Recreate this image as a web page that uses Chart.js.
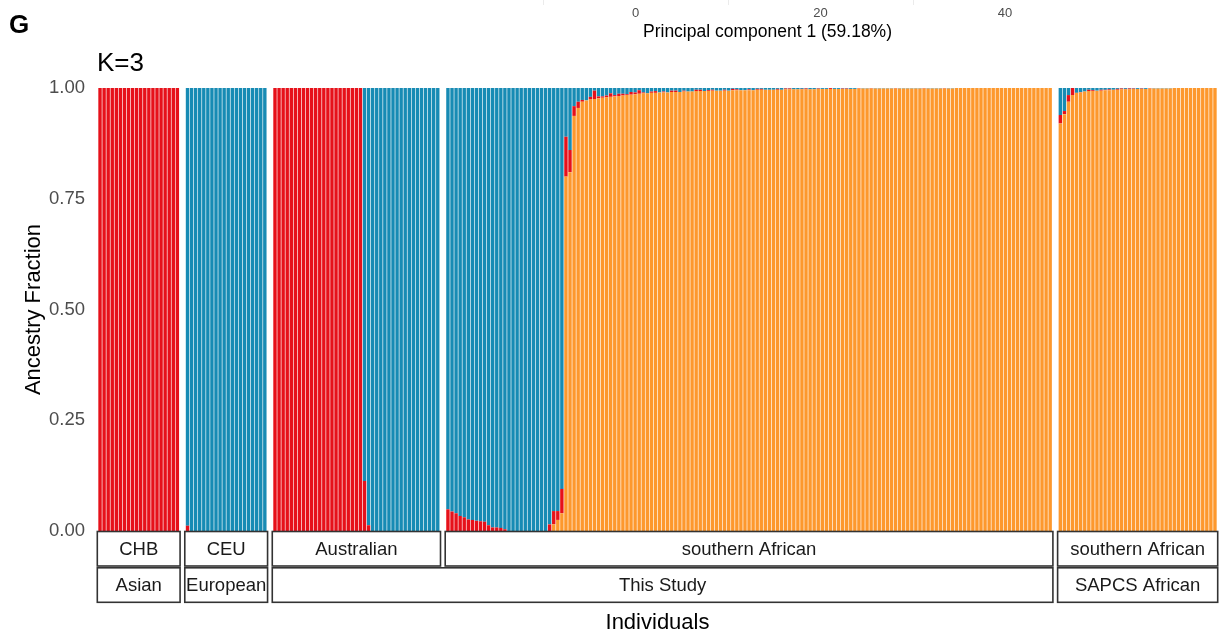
<!DOCTYPE html>
<html>
<head>
<meta charset="utf-8">
<script src="https://cdn.jsdelivr.net/npm/chart.js@4.4.1/dist/chart.umd.min.js"></script>
<style>
  html, body { margin: 0; padding: 0; background: #ffffff; }
  #wrap { position: relative; width: 1219px; height: 634px; }
</style>
</head>
<body>
<div id="wrap"><canvas id="admix" width="1219" height="634"></canvas></div>
<script>
// ADMIXTURE K=3 ancestry fractions, one entry per individual.
// Components: orange (southern African), red (Asian-like), blue (European-like).

const populations = ['CHB', 'CEU', 'Australian', 'southern African', 'southern African'];
const regionLabels = ['Asian', 'European', 'This Study', 'SAPCS African'];
const regionSpans = [1, 1, 2, 1];          // how many populations each region box covers
const yTicks = [0, 0.25, 0.5, 0.75, 1];

const chbOrange = [0,0,0,0,0,0,0,0,0,0, 0,0,0,0,0,0,0,0,0,0];
const chbRed    = [1,1,1,1,1,1,1,1,1,1, 1,1,1,1,1,1,1,1,1,1];

const ceuOrange = [0,0,0,0,0,0,0,0,0,0, 0,0,0,0,0,0,0,0,0,0];
const ceuRed    = [0.012,0,0,0,0,0,0,0,0,0, 0,0,0,0,0,0,0,0,0,0];

const ausOrange = [0,0,0,0,0,0,0,0,0,0, 0,0,0,0,0,0,0,0,0,0, 0,0,0,0,0,0,0,0,0,0, 0,0,0,0,0,0,0,0,0,0, 0];
const ausRed    = [1,1,1,1,1,1,1,1,1,1, 1,1,1,1,1,1,1,1,1,1, 1,1,0.113,0.013,0,0,0,0,0,0, 0,0,0,0,0,0,0,0,0,0, 0];

const safOrange = [
  0,0,0,0,0,0,0,0,0,0,
  0,0,0,0,0,0,0,0,0,0,
  0,0,0,0,0,0,0.015,0.025,0.040,
  0.800,0.810,0.937,0.955,0.969,0.972,0.974,0.975,0.977,0.978,
  0.979,0.980,0.981,0.982,0.983,0.984,0.985,0.986,0.987,0.988,
  0.988,0.989,0.989,0.990,0.990,0.990,0.991,0.991,0.991,0.992,
  0.992,0.992,0.993,0.993,0.993,0.993,0.994,0.994,0.994,0.994,
  0.994,0.995,0.995,0.995,0.995,0.995,0.995,0.996,0.996,0.996,
  0.996,0.996,0.996,0.996,0.997,0.997,0.997,0.997,0.997,0.997,
  0.997,0.997,0.998,0.998,0.998,0.998,0.998,0.998,0.998,0.998,
  0.998,0.998,0.999,0.999,0.999,0.999,0.999,0.999,0.999,0.999,
  0.999,0.999,0.999,0.999,0.999,0.999,0.999,0.999,0.999,0.999,
  0.999,0.999,0.999,0.999,0.999,0.999,1,1,1,1,
  1,1,1,1,1,1,1,1,1,1,
  1,1,1,1,1,1,1,1,1,1
];
const safRed = [
  0.049,0.044,0.040,0.034,0.031,0.026,0.025,0.023,0.022,0.021,
  0.013,0.008,0.008,0.007,0.004,0,0,0,0,0,
  0,0,0,0,0,0.015,0.030,0.020,0.055,
  0.090,0.050,0.022,0.014,0.004,0,0.006,0.019,0.004,0.003,
  0.004,0.008,0.003,0.005,0.004,0.002,0.006,0.004,0.008,0.002,
  0,0.003,0.004,0,0.002,0,0.003,0.003,0,0.002,
  0,0,0.003,0.003,0,0.002,0.002,0,0,0.002,
  0,0.003,0.002,0,0,0.002,0,0.002,0.002,0,
  0,0,0.002,0,0.002,0.002,0,0,0.001,0.002,
  0,0,0.001,0,0,0.002,0,0,0.001,0.001,
  0,0,0.001,0,0,0.001,0,0,0,0,
  0,0.001,0,0,0,0,0,0,0.001,0,
  0,0,0,0.001,0,0,0,0,0,0,
  0,0,0,0,0,0,0,0,0,0,
  0,0,0,0,0,0,0,0,0,0
];

const sapcsOrange = [
  0.920,0.941,0.969,0.984,0.989,0.990,0.992,0.993,0.993,0.994,
  0.994,0.995,0.995,0.996,0.996,0.997,0.997,0.997,0.998,0.998,
  0.998,0.998,0.999,0.999,0.999,0.999,0.999,0.999,1,1,
  1,1,1,1,1,1,1,1,1
];
const sapcsRed = [
  0.019,0.007,0.015,0.016,0,0.001,0,0.003,0.002,0,
  0.002,0.001,0.002,0,0.002,0.002,0.001,0.002,0.001,0,
  0.001,0,0.001,0,0,0,0,0,0,0,
  0,0,0,0,0,0,0,0,0
];

const orangeByPop = [chbOrange, ceuOrange, ausOrange, safOrange, sapcsOrange];
const redByPop = [chbRed, ceuRed, ausRed, safRed, sapcsRed];

const COLORS = { orange: '#FD982D', red: '#E6111A', blue: '#178BB4' };
const FONT = '"Liberation Sans", Arial, Helvetica, sans-serif';
const PANEL_GAP = 1.5;   // space between facets, in bar widths

// Each bar sits at its own x position; facets are separated by a small gap.
const panelStart = [];
const orangePts = [], redPts = [], bluePts = [];
let cursor = 0;
populations.forEach((p, k) => {
  panelStart.push(cursor);
  const o = orangeByPop[k], r = redByPop[k];
  for (let i = 0; i < o.length; i++) {
    const x = cursor + i + 0.5;
    orangePts.push({ x, y: o[i] });
    redPts.push({ x, y: r[i] });
    // the three fractions of an individual add up to one
    bluePts.push({ x, y: Math.max(0, +(1 - o[i] - r[i]).toFixed(4)) });
  }
  cursor += o.length + (k < populations.length - 1 ? PANEL_GAP : 0);
});
const xMax = cursor;
const panelEnd = populations.map((p, k) => panelStart[k] + orangeByPop[k].length);

const extras = {
  id: 'facetStrips',
  afterDraw(chart) {
    const ctx = chart.ctx;
    const xs = chart.scales.x;
    const area = chart.chartArea;
    ctx.save();

    // strip boxes under each facet
    const box = (x0, x1, y0, y1, label) => {
      ctx.fillStyle = '#ffffff';
      ctx.fillRect(x0, y0, x1 - x0, y1 - y0);
      ctx.strokeStyle = '#333333';
      ctx.lineWidth = 1.6;
      ctx.strokeRect(x0, y0, x1 - x0, y1 - y0);
      ctx.fillStyle = '#1A1A1A';
      ctx.font = '18.5px ' + FONT;
      ctx.textAlign = 'center';
      ctx.textBaseline = 'middle';
      ctx.fillText(label, (x0 + x1) / 2, (y0 + y1) / 2 + 1);
    };
    const top1 = area.bottom + 0.5, bot1 = top1 + 34.5;
    const top2 = bot1 + 1.8, bot2 = top2 + 34.5;
    populations.forEach((p, k) => {
      const x0 = xs.getPixelForValue(panelStart[k]) - 0.7;
      const x1 = xs.getPixelForValue(panelEnd[k]) + 0.7;
      box(x0, x1, top1, bot1, p);
    });
    let pi = 0;
    regionLabels.forEach((lab, k) => {
      const first = pi, last = pi + regionSpans[k] - 1;
      const x0 = xs.getPixelForValue(panelStart[first]) - 0.7;
      const x1 = xs.getPixelForValue(panelEnd[last]) + 0.7;
      box(x0, x1, top2, bot2, lab);
      pi += regionSpans[k];
    });

    // x-axis title
    ctx.fillStyle = '#000000';
    ctx.font = '22px ' + FONT;
    ctx.textAlign = 'center';
    ctx.textBaseline = 'middle';
    ctx.fillText('Individuals', (area.left + area.right) / 2, 623);

    // panel title
    ctx.textAlign = 'left';
    ctx.textBaseline = 'alphabetic';
    ctx.font = '26px ' + FONT;
    ctx.fillText('K=3', 97, 71);

    // figure letter
    ctx.font = 'bold 26px ' + FONT;
    ctx.fillText('G', 9, 33);

    // bottom edge of the PCA panel above
    ctx.strokeStyle = '#EBEBEB';
    ctx.lineWidth = 1;
    [543, 728, 913].forEach(x => {
      ctx.beginPath(); ctx.moveTo(x + 0.5, 0); ctx.lineTo(x + 0.5, 5); ctx.stroke();
    });
    ctx.fillStyle = '#4D4D4D';
    ctx.font = '13px ' + FONT;
    ctx.textAlign = 'center';
    [['0', 635.5], ['20', 820.5], ['40', 1005]].forEach(([t, x]) => ctx.fillText(t, x, 17));
    ctx.fillStyle = '#000000';
    ctx.font = '17.5px ' + FONT;
    ctx.fillText('Principal component 1 (59.18%)', 767.5, 37);

    ctx.restore();
  }
};

const barStyle = { borderWidth: 0, barPercentage: 0.84, categoryPercentage: 1 };

new Chart(document.getElementById('admix'), {
  type: 'bar',
  data: {
    datasets: [
      Object.assign({ label: 'orange', data: orangePts, backgroundColor: COLORS.orange }, barStyle),
      Object.assign({ label: 'red', data: redPts, backgroundColor: COLORS.red }, barStyle),
      Object.assign({ label: 'blue', data: bluePts, backgroundColor: COLORS.blue }, barStyle)
    ]
  },
  options: {
    responsive: false,
    animation: false,
    devicePixelRatio: 1,
    layout: { padding: { top: 88, bottom: 103, left: 0, right: 2 } },
    plugins: { legend: { display: false }, tooltip: { enabled: false } },
    scales: {
      x: {
        type: 'linear', min: 0, max: xMax, offset: false, stacked: true, display: false
      },
      y: {
        min: 0, max: 1, stacked: true,
        afterFit(scale) { scale.width = 98; },
        afterBuildTicks(scale) { scale.ticks = yTicks.map(v => ({ value: v })); },
        grid: { display: false, drawTicks: false },
        border: { display: false },
        ticks: {
          callback: v => Number(v).toFixed(2),
          font: { family: FONT, size: 18.5 },
          color: '#4D4D4D',
          padding: 13
        },
        title: {
          display: true, text: 'Ancestry Fraction', color: '#000000',
          font: { family: FONT, size: 22 }, padding: { top: 21, bottom: 0 }
        }
      }
    }
  },
  plugins: [extras]
});
</script>
</body>
</html>
